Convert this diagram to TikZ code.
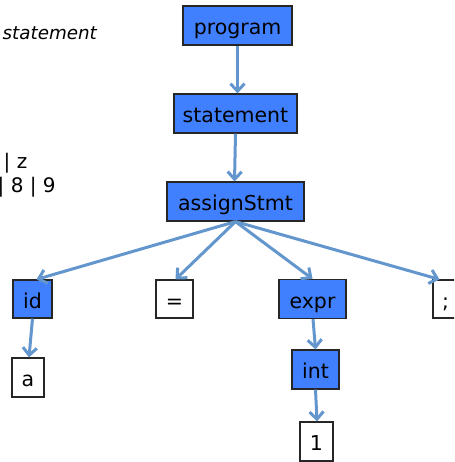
\documentclass[tikz,border=0pt]{standalone}
\usepackage{fontspec}
\setmainfont{DejaVu Sans}
\usetikzlibrary{arrows.meta}
\definecolor{nodeblue}{RGB}{64,128,255}
\definecolor{edgeblue}{RGB}{98,150,205}
\tikzset{
  box/.style={draw=black!85, line width=1.2pt, inner sep=0pt, text height=18pt, text depth=0pt,
    font=\fontsize{20.5}{24}\selectfont, minimum height=39pt},
  nt/.style={box, fill=nodeblue},
  tm/.style={box, fill=white},
  edge/.style={draw=edgeblue, line width=3pt, -{Straight Barb[length=7.5pt,width=14pt]}},
  side/.style={anchor=base west, inner sep=0pt, font=\fontsize{20}{24}\selectfont}
}
\begin{document}
\begin{tikzpicture}[x=1pt,y=-1pt]
\clip (0,0) rectangle (454,462);
\useasboundingbox (0,0) rectangle (454,462);
\node[side, font=\fontsize{18.3}{22}\selectfont\itshape] (lhs) at (2.5,39.5) {statement};
\node[side] (alt1) at (3.5,168) {| z};
\node[side] (alt2) at (-2.5,193) {| 8 | 9};

\node[nt, minimum width=109pt] (program) at (237.5,25.5) {program};
\node[nt, minimum width=123pt] (statement) at (235.5,113.5) {statement};
\node[nt, minimum width=137pt] (assign) at (235.5,201.5) {assignStmt};
\node[nt, minimum width=39pt, minimum height=38pt] (id) at (32.5,299) {id};
\node[tm, minimum width=37pt, minimum height=38pt] (eq) at (174.5,299) {=};
\node[nt, minimum width=67pt] (expr) at (312.5,299) {expr};
\node[tm, minimum width=25pt, minimum height=38pt] (semi) at (445.5,299) {;};
\node[tm, minimum width=32pt] (a) at (28,377.5) {a};
\node[nt, minimum width=47pt] (int) at (315.5,369.5) {int};
\node[tm, minimum width=33pt] (one) at (316.5,441.5) {1};

\draw[edge] (program.south) -- (statement.north -| program.south);
\draw[edge] (statement.south) -- ([xshift=-1pt]assign.north);
\draw[edge] (assign.south) -- ([xshift=4pt]id.north);
\draw[edge] (assign.south) -- ([xshift=1pt]eq.north);
\draw[edge] (assign.south) -- (expr.north);
\draw[edge] (assign.south) -- ([xshift=-6pt]semi.north);
\draw[edge] (id.south) -- ([xshift=1pt]a.north);
\draw[edge] ([xshift=0.5pt]expr.south) -- (int.north);
\draw[edge] (int.south) -- ([xshift=0.5pt]one.north);
\end{tikzpicture}
\end{document}
